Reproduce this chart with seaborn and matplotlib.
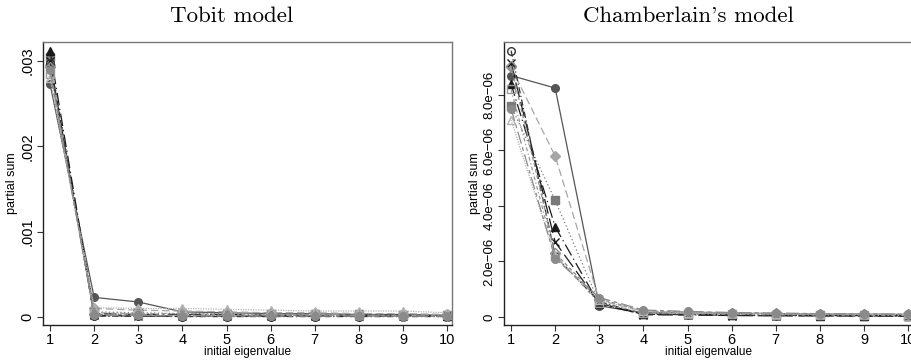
import numpy as np
import matplotlib
matplotlib.use("Agg")
import matplotlib.pyplot as plt
import seaborn as sns

# eigenvalue index shared by both panels
eigen = [1, 2, 3, 4, 5, 6, 7, 8, 9, 10]

# Tobit model partial sums
tobit_1 = [0.00273, 0.00023, 0.000176, 0.00006, 0.00005, 0.00004, 0.00004, 0.00003, 0.00003, 0.00002]
tobit_2 = [0.00295, 0.00010, 0.00008, 0.00007, 0.00006, 0.00005, 0.00005, 0.00004, 0.00004, 0.00003]
tobit_3 = [0.00305, 0.00006, 0.00005, 0.00004, 0.00004, 0.00003, 0.00003, 0.00003, 0.00002, 0.00002]
tobit_4 = [0.00312, 0.00004, 0.00003, 0.00003, 0.00003, 0.00002, 0.00002, 0.00002, 0.00002, 0.00001]
tobit_5 = [0.00300, 0.00002, 0.00001, 0.00001, 0.00001, 0.00001, 0.00001, 0.00001, 0.00001, 0.00001]
tobit_6 = [0.00298, 0.00001, 0.00001, 0.000005, 0.000005, 0.000005, 0.000005, 0.000005, 0.000005, 0.000005]
tobit_7 = [0.00293, 0.00003, 0.00003, 0.00002, 0.00002, 0.00002, 0.00002, 0.00002, 0.00001, 0.00001]
tobit_8 = [0.00285, 0.00005, 0.00004, 0.00004, 0.00003, 0.00003, 0.00003, 0.00002, 0.00002, 0.00002]
tobit_9 = [0.00280, 0.00011, 0.00010, 0.00010, 0.00009, 0.00008, 0.00007, 0.00007, 0.00007, 0.00005]
tobit_10 = [0.00290, 0.00002, 0.00002, 0.00001, 0.00001, 0.00001, 0.00001, 0.00001, 0.00001, 0.00001]

# Chamberlain's model partial sums
cham_1 = [8.7e-06, 8.25e-06, 4.0e-07, 1.5e-07, 1.5e-07, 1.3e-07, 1.2e-07, 1.0e-07, 1.0e-07, 9e-08]
cham_2 = [9.0e-06, 5.8e-06, 6.0e-07, 2.0e-07, 1.6e-07, 1.4e-07, 1.2e-07, 1.0e-07, 9e-08, 8e-08]
cham_3 = [7.6e-06, 4.2e-06, 5.0e-07, 1.2e-07, 1.0e-07, 8e-08, 7e-08, 6e-08, 5e-08, 5e-08]
cham_4 = [8.4e-06, 3.25e-06, 4.5e-07, 1.0e-07, 9e-08, 7e-08, 6e-08, 5e-08, 5e-08, 4e-08]
cham_5 = [9.15e-06, 2.7e-06, 5.0e-07, 8e-08, 7e-08, 5e-08, 4e-08, 4e-08, 3e-08, 3e-08]
cham_6 = [9.6e-06, 2.2e-06, 5.5e-07, 1.0e-07, 8e-08, 6e-08, 5e-08, 4e-08, 4e-08, 3e-08]
cham_7 = [9.05e-06, 2.3e-06, 6.5e-07, 2.2e-07, 1.8e-07, 1.5e-07, 1.3e-07, 1.1e-07, 1.0e-07, 9e-08]
cham_8 = [8.2e-06, 2.2e-06, 5.0e-07, 1.5e-07, 1.2e-07, 1.0e-07, 8e-08, 7e-08, 6e-08, 5e-08]
cham_9 = [7.1e-06, 2.2e-06, 6.0e-07, 2.0e-07, 1.6e-07, 1.4e-07, 1.2e-07, 1.1e-07, 1.0e-07, 9e-08]
cham_10 = [7.5e-06, 2.1e-06, 7.0e-07, 2.5e-07, 2.0e-07, 1.6e-07, 1.4e-07, 1.2e-07, 1.1e-07, 1.0e-07]

tobit_series = [tobit_1, tobit_2, tobit_3, tobit_4, tobit_5,
                tobit_6, tobit_7, tobit_8, tobit_9, tobit_10]
cham_series = [cham_1, cham_2, cham_3, cham_4, cham_5,
               cham_6, cham_7, cham_8, cham_9, cham_10]

tobit_yticks = [0, 0.001, 0.002, 0.003]
tobit_ylabels = ["0", ".001", ".002", ".003"]
cham_yticks = [0, 2e-06, 4e-06, 6e-06, 8e-06]
cham_ylabels = ["0", "2.0e\u221206", "4.0e\u221206", "6.0e\u221206", "8.0e\u221206"]

# Stata s2mono-like styles: (color, marker, filled, linestyle)
styles = [
    ("#555555", "o", True, "-"),
    ("#a6a6a6", "D", True, (0, (6, 3))),
    ("#7a7a7a", "s", True, (0, (1, 2))),
    ("#1a1a1a", "^", True, (0, (10, 3, 1, 3))),
    ("#1a1a1a", "x", True, (0, (12, 4))),
    ("#333333", "o", False, (0, (5, 2, 1, 2))),
    ("#8c8c8c", "D", False, (0, (3, 2))),
    ("#999999", "s", False, (0, (3, 2, 1, 2))),
    ("#b3b3b3", "^", False, (0, (1, 1))),
    ("#8a8a8a", "o", True, (0, (10, 3, 3, 3))),
]

plt.rcParams["font.family"] = ["Liberation Sans", "DejaVu Sans"]

fig = plt.figure(figsize=(9.12, 3.62), dpi=100)
W, H = 912, 362
ax_l = fig.add_axes([43 / W, 1 - 325 / H, 409 / W, 283 / H])
ax_r = fig.add_axes([504 / W, 1 - 325 / H, 409 / W, 283 / H])


def draw_panel(ax, series, yticks, ylabels, ylim, ysize):
    for vals, (col, mk, filled, ls) in zip(series, styles):
        ms = 5.5 if mk != "D" else 4.8
        sns.lineplot(x=eigen, y=vals, ax=ax, color=col, linestyle=ls,
                     linewidth=0.9, marker=mk, markersize=ms,
                     markerfacecolor=col if filled else "none",
                     markeredgecolor=col, markeredgewidth=1.0)
    ax.set_xlim(0.84, 10.11)
    ax.set_ylim(*ylim)
    ax.set_xticks(eigen)
    ax.set_xticklabels([str(e) for e in eigen], fontsize=10.5)
    ax.set_yticks(yticks)
    ax.set_yticklabels(ylabels, fontsize=ysize, rotation=90, va="center")
    ax.tick_params(direction="out", length=4, width=0.8, color="#333333", pad=2)
    ax.set_xlabel("initial eigenvalue", fontsize=8.5, labelpad=-1)
    ax.set_ylabel("partial sum", fontsize=9, labelpad=2)
    for side in ["left", "bottom"]:
        ax.spines[side].set_color("#222222")
        ax.spines[side].set_linewidth(1.0)
    for side in ["top", "right"]:
        ax.spines[side].set_color("#777777")
        ax.spines[side].set_linewidth(1.0)
    ax.grid(False)
    ax.set_facecolor("white")


draw_panel(ax_l, tobit_series, tobit_yticks, tobit_ylabels, (-0.0000938, 0.003224), 10.5)
draw_panel(ax_r, cham_series, cham_yticks, cham_ylabels, (-0.29e-06, 9.91e-06), 9.5)

fig.text(232 / W, 1 - 16 / H, "Tobit model", ha="center", va="center",
         fontsize=16.5, family=["cmr10", "DejaVu Serif"])
fig.text(688 / W, 1 - 16 / H, "Chamberlain's model", ha="center", va="center",
         fontsize=16.5, family=["cmr10", "DejaVu Serif"])

fig.savefig("out.png", dpi=100, facecolor="white")
